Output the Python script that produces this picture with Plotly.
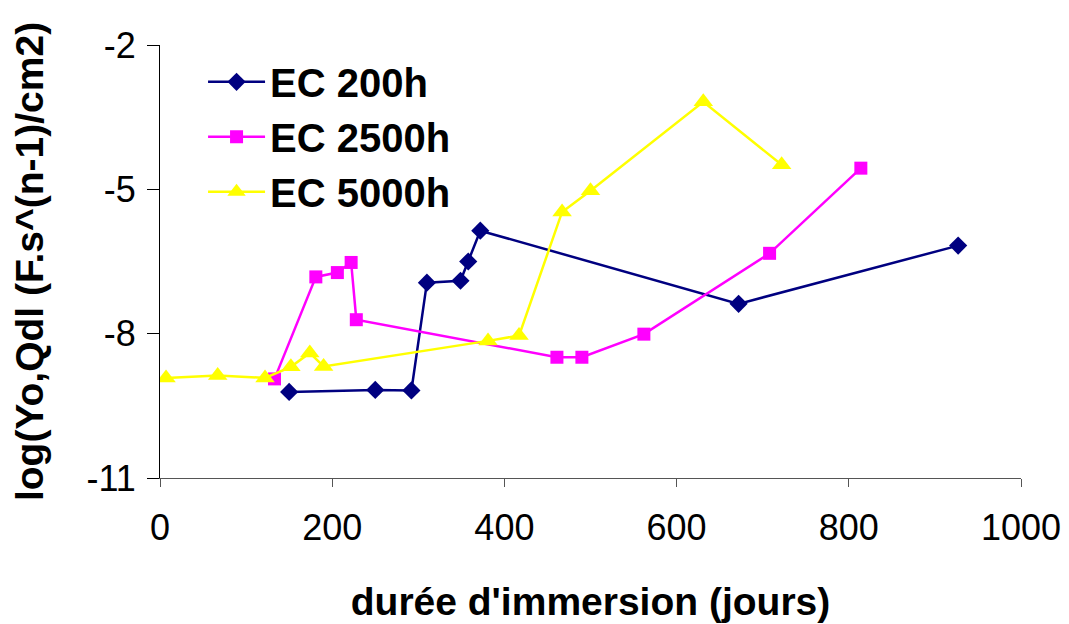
import plotly.graph_objects as go

# durée d'immersion (jours) vs log(Yo,Qdl)
ec200_x = [150, 250, 292, 310, 349, 358, 372, 672, 927]
ec200_y = [-9.21, -9.17, -9.18, -6.94, -6.90, -6.50, -5.86, -7.38, -6.17]

ec2500_x = [133, 181, 206, 222, 228, 461, 490, 562, 708, 814]
ec2500_y = [-8.94, -6.82, -6.73, -6.52, -7.71, -8.49, -8.49, -8.01, -6.33, -4.56]

ec5000_x = [7, 67, 122, 152, 174, 190, 381, 417, 467, 500, 631, 722]
ec5000_y = [-8.92, -8.87, -8.92, -8.69, -8.40, -8.68, -8.15, -8.04, -5.47, -5.03, -3.18, -4.49]

# y tick labels use a plain hyphen like the original
y_ticks = [-11, -8, -5, -2]
y_tick_labels = ["-11", "-8", "-5", "-2"]

FONT = "Liberation Sans, Arial, sans-serif"

fig = go.Figure()
fig.add_trace(go.Scatter(
    x=ec200_x, y=ec200_y, mode="lines+markers", name="EC 200h",
    line=dict(color="#000080", width=2.5),
    marker=dict(symbol="diamond", size=14, color="#000080"),
))
fig.add_trace(go.Scatter(
    x=ec2500_x, y=ec2500_y, mode="lines+markers", name="EC 2500h",
    line=dict(color="#ff00ff", width=2.5),
    marker=dict(symbol="square", size=13, color="#ff00ff"),
))
fig.add_trace(go.Scatter(
    x=ec5000_x, y=ec5000_y, mode="lines+markers", name="EC 5000h",
    line=dict(color="#ffff00", width=2.5),
    marker=dict(symbol="triangle-up", size=17, color="#ffff00"),
))

# the page body adds an 8px offset, so margins are shifted by that
fig.update_layout(
    width=1069, height=624,
    template="none",
    plot_bgcolor="white", paper_bgcolor="white",
    font=dict(family=FONT, size=36, color="black"),
    margin=dict(l=152, r=56, t=37, b=154),
    showlegend=True,
    legend=dict(
        x=0.05, y=0.99, xanchor="left", yanchor="top",
        font=dict(size=40, family=FONT, weight="bold"),
        bgcolor="rgba(0,0,0,0)", tracegroupgap=0,
        itemwidth=57,
    ),
    xaxis=dict(
        range=[0, 1000], dtick=200, tick0=0,
        showgrid=False, zeroline=False,
        showline=True, linecolor="#555555", linewidth=1,
        ticks="outside", ticklen=8, tickcolor="#555555",
        tickfont=dict(size=36), ticklabelstandoff=10,
        title=dict(text="durée d'immersion (jours)",
                   font=dict(size=39, weight="bold"), standoff=40),
    ),
    yaxis=dict(
        range=[-11, -2], tickvals=y_ticks, ticktext=y_tick_labels,
        showgrid=False, zeroline=False,
        showline=True, linecolor="black", linewidth=1,
        ticks="outside", ticklen=12, tickcolor="black",
        tickfont=dict(size=36), ticklabelstandoff=4,
        title=dict(text="log(Yo,Qdl (F.s^(n-1)/cm2)",
                   font=dict(size=39, weight="bold"), standoff=34),
    ),
)

fig.write_html("out.html")
